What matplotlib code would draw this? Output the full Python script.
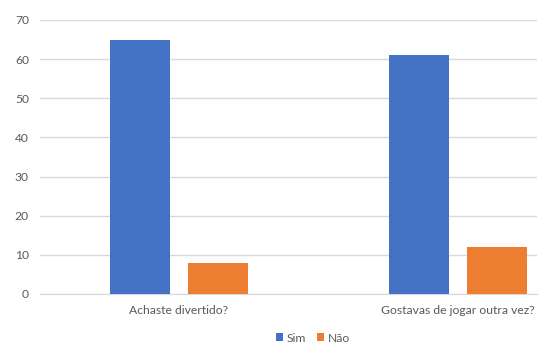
import matplotlib
matplotlib.use("Agg")
import matplotlib.pyplot as plt
import numpy as np

categories = ["Achaste divertido?", "Gostavas de jogar outra vez?"]
series_names = ["Sim", "Não"]
sim_values = [65, 61]
nao_values = [8, 12]
yticks = [0, 10, 20, 30, 40, 50, 60, 70]

plt.rcParams['font.family'] = ['Lato', 'DejaVu Sans']

fig = plt.figure(figsize=(5.5, 3.45), dpi=100)
ax = fig.add_axes([40/550, 51/345, 497/550, 274/345])

x = np.arange(len(categories))
w = 0.215
off = 0.14
ax.bar(x - off, sim_values, width=w, color="#4472C4", label=series_names[0], zorder=3)
ax.bar(x + off, nao_values, width=w, color="#ED7D31", label=series_names[1], zorder=3)

ax.set_xlim(-0.498, 1.283)
ax.set_ylim(0, 70)
ax.set_yticks(yticks)
ax.yaxis.grid(True, color="#D9D9D9", linewidth=1, zorder=0)
ax.set_xticks(x)
ax.set_xticklabels(categories)
for s in ["top", "right", "left"]:
    ax.spines[s].set_visible(False)
ax.spines["bottom"].set_color("#D9D9D9")
ax.tick_params(axis="both", length=0, colors="#595959", labelsize=8.7)
ax.tick_params(axis="y", pad=8)
ax.tick_params(axis="x", pad=8)

fig.legend(loc="center", bbox_to_anchor=(313/550, 1 - 338/345), ncol=2, frameon=False,
           fontsize=8.7, handlelength=0.6, handleheight=0.6, handletextpad=0.3,
           columnspacing=0.9, labelcolor="#595959")

fig.savefig("out.png", dpi=100, facecolor="white")
